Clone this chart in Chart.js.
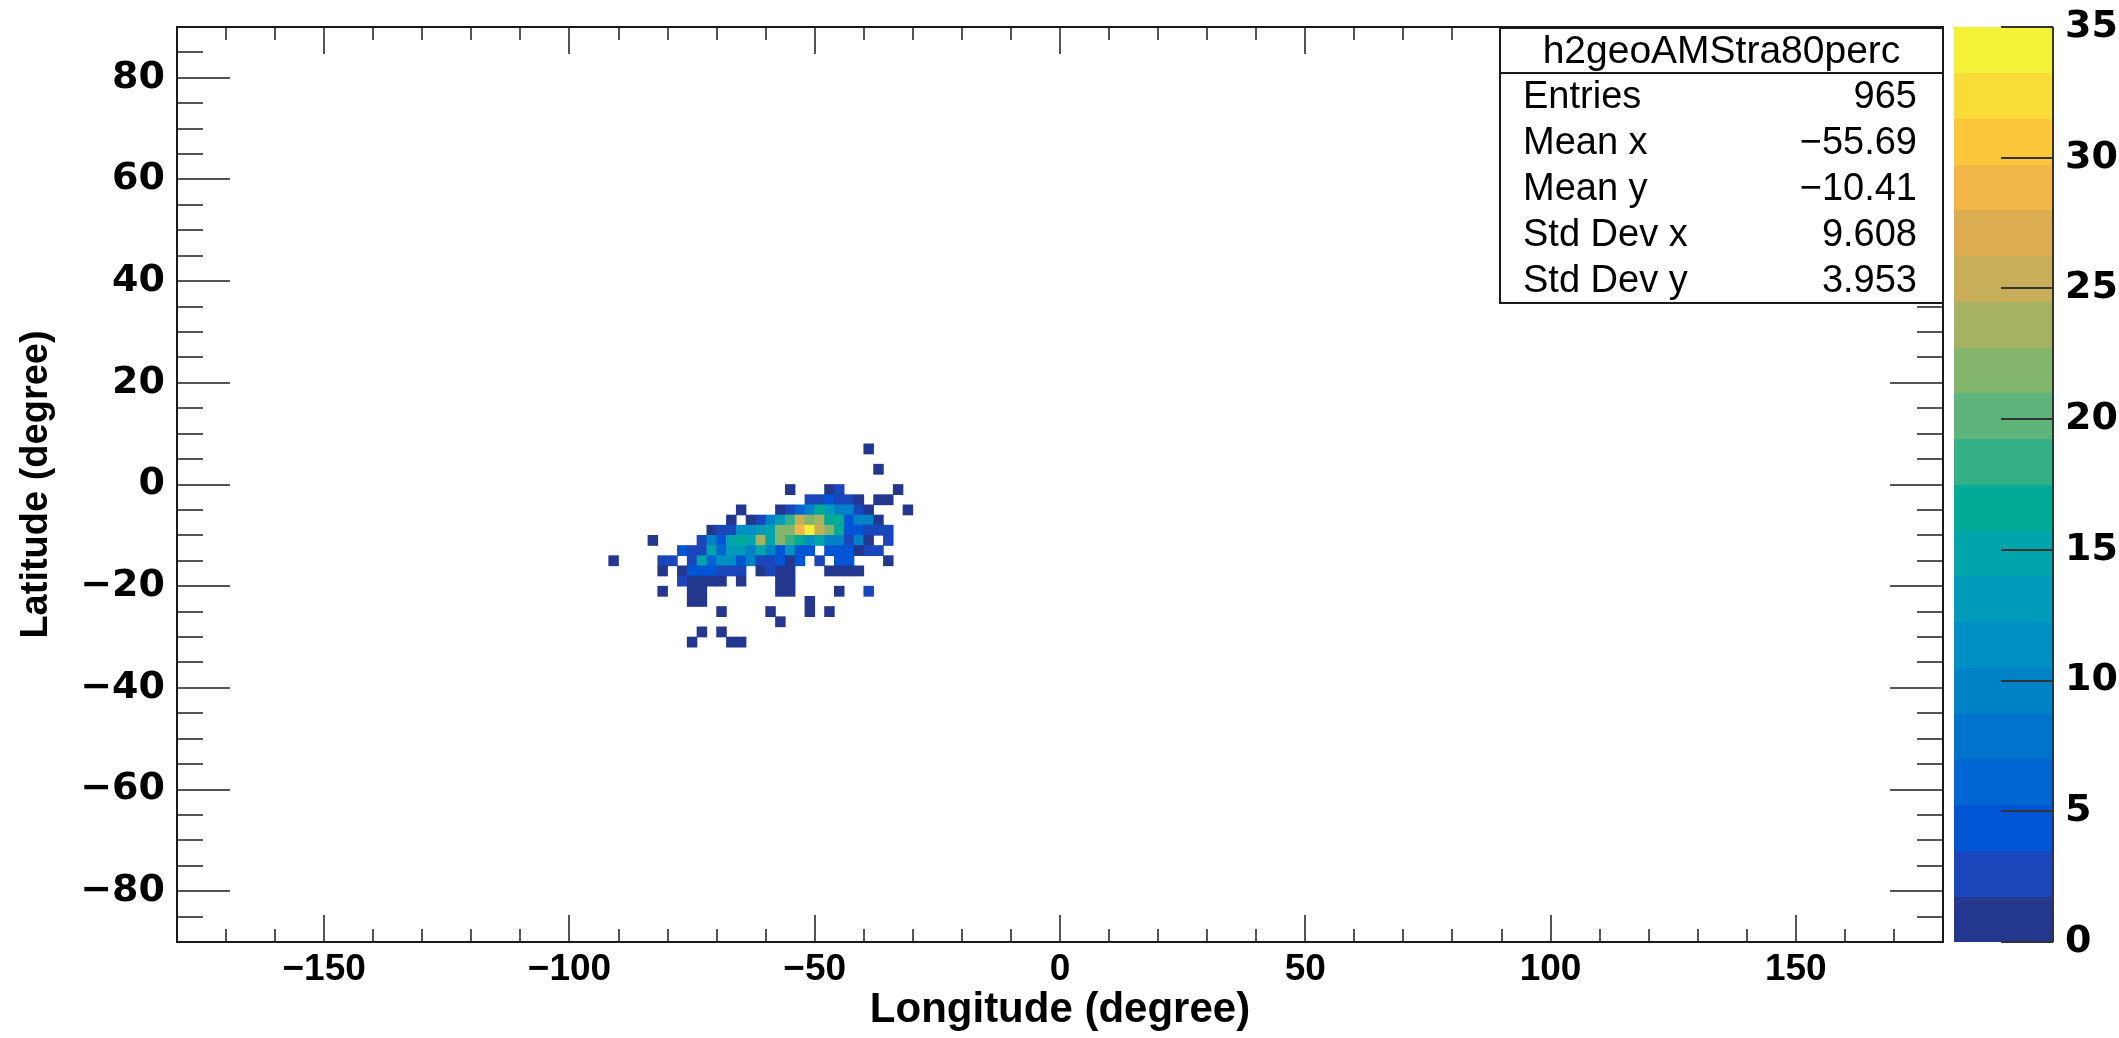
<!DOCTYPE html>
<html>
<head>
<meta charset="utf-8">
<script src="https://cdn.jsdelivr.net/npm/chart.js@4.4.1/dist/chart.umd.min.js"></script>
<style>
    html, body { margin: 0; padding: 0; background: #fff; }
    #wrap { width: 2119px; height: 1038px; }
</style>
</head>
<body>
<div id="wrap"><canvas id="chart" width="2119" height="1038"></canvas></div>
<script>
// =============================
// DATA
// =============================
const BIN = 2; // bin width in degrees (lon and lat)

const xTickValues = [-150, -100, -50, 0, 50, 100, 150];
const yTickValues = [-80, -60, -40, -20, 0, 20, 40, 60, 80];
const zTickValues = [0, 5, 10, 15, 20, 25, 30, 35];

// one entry per latitude row (bin centre), with the longitude bin centres and counts
const rowLat = [7, 3, -1, -3, -5, -7, -9, -11, -13, -15, -17, -19, -21, -23, -25, -27, -29, -31];
const rowLon = [
    [-39],
    [-37],
    [-55, -47, -45, -33],
    [-51, -49, -47, -45, -43, -41, -37, -35],
    [-65, -57, -55, -53, -51, -49, -47, -45, -43, -41, -39, -31],
    [-67, -63, -61, -59, -57, -55, -53, -51, -49, -47, -45, -43, -41, -39, -37],
    [-71, -69, -67, -65, -63, -61, -59, -57, -55, -53, -51, -49, -47, -45, -43, -41, -39, -37, -35],
    [-83, -73, -71, -69, -67, -65, -63, -61, -59, -57, -55, -53, -51, -49, -47, -45, -43, -41, -39, -35],
    [-77, -75, -73, -71, -69, -67, -65, -63, -61, -59, -57, -55, -53, -51, -47, -45, -43, -41, -39, -37],
    [-91, -81, -79, -75, -73, -71, -69, -67, -65, -63, -61, -59, -57, -55, -53, -49, -45, -43, -35],
    [-81, -77, -75, -73, -71, -69, -67, -65, -61, -59, -57, -55, -47, -45, -43, -41],
    [-77, -75, -73, -71, -69, -65, -57, -55],
    [-81, -75, -73, -57, -55, -45, -39],
    [-75, -73, -51],
    [-69, -59, -51, -47],
    [-57],
    [-73, -69],
    [-75, -67, -65]
];
const rowCount = [
    [1],
    [1],
    [1, 1, 3, 1],
    [3, 3, 5, 3, 3, 1, 1, 1],
    [1, 1, 3, 6, 9, 16, 13, 10, 9, 3, 1, 1],
    [1, 1, 3, 9, 13, 18, 25, 22, 24, 16, 16, 5, 9, 9, 1],
    [1, 3, 3, 12, 12, 13, 15, 22, 22, 29, 35, 25, 22, 16, 5, 5, 3, 3, 3],
    [1, 3, 10, 5, 15, 17, 15, 24, 15, 22, 18, 16, 11, 14, 9, 9, 3, 9, 1, 3],
    [4, 3, 3, 14, 6, 13, 13, 9, 14, 9, 5, 11, 5, 5, 5, 5, 5, 1, 3, 3],
    [1, 3, 3, 3, 14, 6, 11, 12, 5, 10, 3, 3, 5, 1, 5, 3, 5, 5, 1],
    [1, 1, 5, 5, 5, 3, 3, 3, 1, 3, 1, 1, 1, 1, 1, 1],
    [3, 1, 1, 1, 1, 1, 1, 1],
    [1, 1, 1, 1, 1, 1, 3],
    [1, 1, 1],
    [1, 1, 1, 1],
    [1],
    [1, 1],
    [1, 1, 1]
];

const Z_MAX = 35;
const N_CONTOURS = 20;

const statsTitle = "h2geoAMStra80perc";
const statsNames = ["Entries", "Mean x", "Mean y", "Std Dev x", "Std Dev y"];
const statsValues = ["965", "\u221255.69", "\u221210.41", "9.608", "3.953"];

// =============================
// STYLE
// =============================
const paletteColors = [
    "#23378f", "#1a46bc", "#0055d4", "#0066d3", "#0074cd",
    "#0082c7", "#008fc2", "#009bbb", "#00a5ab", "#00ac98",
    "#35b188", "#5eb47a", "#84b56c", "#a8b263", "#c9ae5a",
    "#ddae51", "#f2b746", "#fdc73c", "#f9dc37", "#f4f236"
];

function bandColor(v) {
    const band = Math.min(N_CONTOURS - 1, Math.floor(v / (Z_MAX / N_CONTOURS)));
    return paletteColors[band];
}

function fmt(v) {
    return v < 0 ? "\u2212" + Math.abs(v) : String(v);
}

// fixed axis box sizes, no extra label overflow padding
function fixBox(size) {
    return s => {
        if (s.isHorizontal()) s.height = size; else s.width = size;
        s.paddingTop = 0;
        s.paddingBottom = 0;
        s.paddingLeft = 0;
        s.paddingRight = 0;
    };
}

const cells = [];
rowLat.forEach((lat, r) => {
    rowLon[r].forEach((lon, k) => {
        cells.push({ x: lon, y: [lat - BIN / 2, lat + BIN / 2], count: rowCount[r][k] });
    });
});

// =============================
// FRAME, TICKS, PALETTE, STATS
// =============================
const rootDecor = {
    id: "rootDecor",
    afterDraw(chart) {
        const ctx = chart.ctx;
        const a = chart.chartArea;
        const xs = chart.scales.x, ys = chart.scales.y, zs = chart.scales.z;

        ctx.save();

        // ticks inside the frame
        ctx.strokeStyle = "#555";
        ctx.lineWidth = 2;
        ctx.beginPath();
        for (let v = -170; v <= 170; v += 10) {
            const px = Math.round(xs.getPixelForValue(v));
            const len = v % 50 === 0 ? 27 : 13;
            ctx.moveTo(px, a.bottom); ctx.lineTo(px, a.bottom - len);
            ctx.moveTo(px, a.top); ctx.lineTo(px, a.top + len);
        }
        for (let v = -85; v <= 85; v += 5) {
            const py = Math.round(ys.getPixelForValue(v));
            const len = v % 20 === 0 ? 53 : 26;
            ctx.moveTo(a.left, py); ctx.lineTo(a.left + len, py);
            ctx.moveTo(a.right, py); ctx.lineTo(a.right - len, py);
        }
        ctx.stroke();

        // frame
        ctx.strokeStyle = "#1a1a1a";
        ctx.lineWidth = 2;
        ctx.strokeRect(a.left, a.top, a.right - a.left, a.bottom - a.top);

        // palette
        const pl = a.right + 11, pr = a.right + 110;
        for (let k = 0; k < N_CONTOURS; k++) {
            const y0 = zs.getPixelForValue(k * Z_MAX / N_CONTOURS);
            const y1 = zs.getPixelForValue((k + 1) * Z_MAX / N_CONTOURS);
            ctx.fillStyle = paletteColors[k];
            ctx.fillRect(pl, Math.floor(y1), pr - pl, Math.ceil(y0) - Math.floor(y1));
        }
        ctx.strokeStyle = "#333";
        ctx.lineWidth = 2;
        ctx.beginPath();
        zTickValues.forEach(v => {
            const py = Math.round(zs.getPixelForValue(v));
            ctx.moveTo(pr - 52, py); ctx.lineTo(pr, py);
        });
        ctx.moveTo(pr, a.top); ctx.lineTo(pr, a.bottom);
        ctx.stroke();

        // stats box
        const bx0 = 1500, bx1 = a.right, by0 = a.top + 1, by1 = a.top + 276, sep = a.top + 46;
        ctx.fillStyle = "#fff";
        ctx.fillRect(bx0, by0, bx1 - bx0, by1 - by0);
        ctx.strokeStyle = "#1a1a1a";
        ctx.lineWidth = 2;
        ctx.strokeRect(bx0, by0, bx1 - bx0, by1 - by0);
        ctx.beginPath();
        ctx.moveTo(bx0, sep); ctx.lineTo(bx1, sep);
        ctx.stroke();

        ctx.fillStyle = "#000";
        ctx.textBaseline = "middle";
        ctx.font = "39px 'Liberation Sans', Arial, sans-serif";
        ctx.textAlign = "center";
        ctx.fillText(statsTitle, (bx0 + bx1) / 2, (by0 + sep) / 2 + 2);

        ctx.font = "38px 'Liberation Sans', Arial, sans-serif";
        const rowH = (by1 - sep) / statsNames.length;
        statsNames.forEach((name, i) => {
            const cy = sep + rowH * (i + 0.5) + 2;
            ctx.textAlign = "left";
            ctx.fillText(name, bx0 + 23, cy);
            ctx.textAlign = "right";
            ctx.fillText(statsValues[i], bx1 - 26, cy);
        });

        ctx.restore();
    }
};

// =============================
// CHART
// =============================
const tickFontX = { family: "'Liberation Sans', Arial, sans-serif", weight: "bold", size: 37 };
const tickFontY = { family: "'DejaVu Sans', sans-serif", weight: "bold", size: 38 };
const titleFont = { family: "'Liberation Sans', Arial, sans-serif", weight: "bold", size: 42 };

new Chart(document.getElementById("chart"), {
    type: "bar",
    data: {
        datasets: [{
            data: cells,
            xAxisID: "x",
            yAxisID: "y",
            backgroundColor: ctx => bandColor(ctx.raw.count),
            borderWidth: 0,
            barPercentage: 1,
            categoryPercentage: 1,
            grouped: false
        }]
    },
    options: {
        responsive: false,
        animation: false,
        events: [],
        devicePixelRatio: 1,
        layout: { padding: { top: 27, left: 0, right: 0, bottom: 0 } },
        plugins: {
            legend: { display: false },
            tooltip: { enabled: false }
        },
        scales: {
            x: {
                type: "linear",
                position: "bottom",
                min: -180,
                max: 180,
                offset: false,
                grid: { display: false, drawTicks: false },
                border: { display: false },
                ticks: { padding: 6, color: "#000", font: tickFontX, maxRotation: 0, autoSkip: false, callback: v => fmt(v) },
                afterBuildTicks: s => { s.ticks = xTickValues.map(v => ({ value: v })); },
                afterFit: fixBox(96),
                title: { display: true, text: "Longitude (degree)", color: "#000", font: titleFont, padding: { top: 0, bottom: 2 } }
            },
            y: {
                type: "linear",
                position: "left",
                min: -90,
                max: 90,
                grid: { display: false, drawTicks: false },
                border: { display: false },
                ticks: { padding: 12, color: "#000", font: tickFontY, autoSkip: false, callback: v => fmt(v) },
                afterBuildTicks: s => { s.ticks = yTickValues.map(v => ({ value: v })); },
                afterFit: fixBox(177),
                title: { display: true, text: "Latitude (degree)", color: "#000", font: { ...titleFont, size: 38 }, padding: { top: 14, bottom: 0 } }
            },
            z: {
                type: "linear",
                position: "right",
                min: 0,
                max: Z_MAX,
                grid: { display: false, drawTicks: false },
                border: { display: false },
                ticks: { padding: 122, color: "#000", font: tickFontY, autoSkip: false },
                afterBuildTicks: s => { s.ticks = zTickValues.map(v => ({ value: v })); },
                afterFit: fixBox(176)
            }
        }
    },
    plugins: [rootDecor]
});
</script>
</body>
</html>
